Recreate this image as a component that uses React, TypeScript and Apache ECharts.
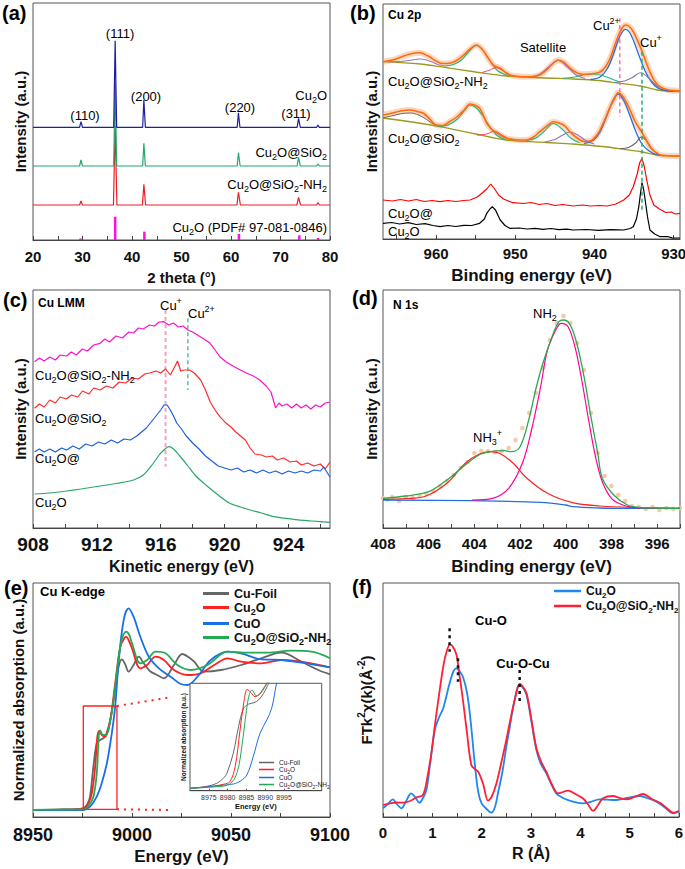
import React, { useEffect, useRef } from 'react';
import * as echarts from 'echarts';

const FONT = 'Liberation Sans, Arial, Helvetica, sans-serif';

// ---------- (a) XRD ----------
const aLabels = [20, 30, 40, 50, 60, 70, 80];
const aTicks = [20, 25, 30, 35, 40, 45, 50, 55, 60, 65, 70, 75, 80];
const xrdCu2O = [[20,112.7],[29.4,112.7],[29.7,118.3],[30.0,112.7],[36.3,112.7],[36.6,199.3],[36.9,112.7],[42.15,112.7],[42.4,140],[42.7,112.7],[52.5,112.7],[61.25,112.7],[61.5,127.3],[61.8,112.7],[73.35,112.7],[73.65,121.7],[74.0,112.7],[77.3,112.7],[77.55,115],[77.85,112.7],[80,112.7]];
const xrdSiO2 = [[20,74],[29.4,74],[29.7,80],[30,74],[36.3,74],[36.6,157],[36.9,74],[42.15,74],[42.4,96.7],[42.7,74],[61.25,74],[61.5,87.3],[61.85,74],[73.35,74],[73.65,82.7],[74.0,74],[77.3,74],[77.55,76],[77.85,74],[80,74]];
const xrdNH2 = [[20,35],[29.4,35],[29.7,39],[30,35],[36.25,35],[36.6,114],[36.95,35],[42.1,35],[42.4,55.7],[42.75,35],[61.2,35],[61.5,47.7],[61.9,35],[73.3,35],[73.65,42.7],[74.05,35],[77.3,35],[77.55,37.3],[77.9,35],[80,35]];
const pdfSticks = [[29.6,1.5],[36.6,23.3],[42.5,8.3],[61.6,6],[73.8,4.7],[77.6,2]];

// ---------- (b) Cu 2p ----------
const bLabels = [960, 950, 940, 930];
const bTicks = [965, 960, 955, 950, 945, 940, 935, 930];
const bNH2Fit = [[966.7,177.3],[965.5,179],[964.6,181.5],[963.3,185],[962.1,186.3],[961,183],[960.0,178],[959.2,175.5],[958.3,175.7],[957.4,178.5],[956.5,184],[955.7,190],[954.9,194],[954.2,190],[953.6,183],[953.0,176],[952.6,173],[951.9,170.7],[951.3,167],[950.7,164],[949.5,162.5],[948.6,162.3],[947.7,162.5],[946.9,164],[946.2,168],[945.5,173.5],[944.6,179],[943.9,177],[943.3,172.5],[942.5,167.5],[941.8,165],[941.0,164.7],[940.1,165.5],[939.3,167],[938.6,172.3],[938.0,181],[937.6,190],[937.0,203],[936.5,211],[936.1,214],[935.6,212.5],[935.1,207.3],[934.6,199],[934.0,188],[933.5,177],[933.0,167],[932.5,159],[932.0,154],[931.3,150.5],[930.5,148.8],[929.2,148.3]];
const bNH2Bg = [[966.7,177.3],[962,175],[959.5,172.3],[955,167],[951.1,163],[946,161],[942.7,160],[939.5,158.5],[936.8,155.7],[934.2,153],[932.1,149],[930.5,147.8],[929.2,147.3]];
const bNH2Sat1 = [[966,177.2],[964.5,177.5],[963,179],[962.1,180],[961,178.5],[959.8,174.5],[959,173.3]];
const bNH2Sat2 = [[959,173],[957.8,174.5],[956.8,179],[955.8,188],[954.9,193.5],[954,188],[953.1,177],[952.2,168],[951.3,164.5],[950.5,163.3]];
const bNH2Cu1Half = [[954.2,166.5],[953.2,169],[952.4,171.3],[951.6,168.5],[950.6,164]];
const bNH2Sat3 = [[948.3,162],[947,164.5],[945.8,172],[944.6,178.5],[943.4,172],[942.3,164],[941.2,160.5]];
const bNH2Sat4 = [[944,160.8],[942.5,162],[941.2,164.5],[940.1,165],[939,163.5],[937.8,160],[936.8,157]];
const bNH2Cu2 = [[940.5,159.5],[939.3,162],[938.4,170],[937.6,185],[937,199],[936.5,207],[936.1,209.7],[935.6,207],[935,197],[934.4,184],[933.6,168],[932.8,157],[932,151],[931,148.5],[930,148]];
const bNH2Cu1 = [[937.5,156.5],[936.2,158],[935.2,161.5],[934.2,166.3],[933.3,162],[932.4,155],[931.6,150]];

const bSiFit = [[966.7,124],[965.5,126],[964.6,127.8],[963.3,129],[962.3,127.3],[961.6,125.7],[960.8,120],[960,114],[959.2,113.5],[958.3,117.3],[957.3,122.5],[956.4,129.5],[955.7,135],[955,133.5],[954.5,130.7],[954,123],[953.6,115.7],[953,110],[952.6,107.3],[951.9,104],[951.1,100.7],[950,99.3],[948.6,99],[947.7,102],[946.9,107.3],[946,113],[945.2,117.3],[944.5,116],[943.9,114],[943.5,111],[943.1,107.3],[942.2,101],[941.3,97.5],[940.5,98],[939.8,103],[939.3,109],[938.6,121],[938,132.3],[937.5,140],[937,146.3],[936.5,143.5],[936,137],[935.5,129],[934.9,118],[934.2,109],[933.6,101],[933,92.3],[932.4,87.5],[931.7,84],[930.8,83.3],[929.2,83]];
const bSiBg = [[966.7,121],[963,117],[959.5,112.3],[955,105],[951.1,99],[946,96.5],[942.7,95],[939,92.5],[936.3,89.7],[934,87],[932.1,84],[930.5,83.2],[929.2,83]];
const bSiSat1 = [[966.7,121.3],[965.6,123],[964.5,125.2],[963.3,126],[962.2,124],[961.2,119.5],[960.2,114.5],[959.4,112.3]];
const bSiSat2 = [[959.8,112.6],[958.5,114],[957.3,120],[956.4,128.5],[955.7,134],[954.9,131],[954,122],[953.1,111],[952.2,103],[951.3,99.8]];
const bSiCu1Half = [[954.8,103.8],[953.6,105],[952.6,108],[951.7,104],[950.7,99.6]];
const bSiSat3 = [[948.6,98.5],[947.4,101],[946.3,108],[945.2,115.5],[944.1,110],[943,101],[941.9,96.3]];
const bSiSat4 = [[946.3,97],[945,99.5],[944,104],[943.1,107],[942.2,104.5],[941.2,99],[940,94.8]];
const bSiCu2 = [[941.3,95.5],[940.1,99],[939.3,107],[938.5,122],[937.7,138],[937,145],[936.3,138.5],[935.6,125],[934.8,108],[934,95],[933.1,88],[932.2,84.5],[931.2,83.3]];
const bSiCu1 = [[936.8,90.3],[935.7,91.5],[934.8,96],[934.1,102],[933.4,98],[932.7,89.5],[931.9,84.5]];

const bCuAt = [[966.7,39],[965.5,38],[964.5,39.5],[963.5,38],[962.5,39.5],[961.5,37.5],[960.5,38.5],[959.5,37.3],[958.5,38.5],[957.5,37.5],[956.5,38.5],[955.7,39],[954.8,42],[954.2,45.7],[953.6,50],[953.1,55],[952.6,50],[952.1,44],[951.5,40],[950.3,36.3],[949,35.5],[948,36.5],[947,34.5],[946,35.5],[945,33.5],[944,34.5],[942.7,33],[941.5,34],[940.5,33],[939.4,33.5],[938.4,33],[937.3,35],[936.3,39],[935.6,44],[935.1,52.3],[934.6,65],[934.3,76],[934.0,80.7],[933.7,72],[933.4,59],[933,44],[932.5,34],[931.8,30],[931,26.5],[930.3,27],[929.8,25],[929.2,25.7]];
const bCu2O = [[966.7,15.7],[965.6,16.5],[964.6,15],[963.5,16.3],[962.5,14.5],[961.4,15.3],[960.4,13.5],[959.5,12.3],[958.5,13.5],[957.5,12.5],[956.5,13.7],[955.5,13.5],[954.5,15.7],[953.9,20],[953.6,25.7],[953.2,30],[952.9,32.3],[952.5,29],[951.9,19],[951.3,13.5],[950.7,10.7],[949.5,11],[948.5,10],[947.5,10.7],[946.5,9.7],[945.5,10.5],[944.5,9.3],[943.5,9.8],[942.7,9],[941,9.5],[939.5,8.7],[938,9.3],[936.3,9],[935.5,10.5],[935.1,12.3],[934.7,20],[934.4,32.3],[934.2,45],[934.0,56.3],[933.8,50],[933.6,39],[933.3,22],[933.0,9],[932.4,5],[931.7,2.3],[930.8,2.5],[930.2,1.2],[929.2,1]];
const bMarkCu2 = [[936.8,220.7],[936.8,122.3]];
const bMarkCu1 = [[934,187.3],[934,29]];

// ---------- (c) Cu LMM ----------
const cLabels = [908, 912, 916, 920, 924];
const cTicks = [908, 910, 912, 914, 916, 918, 920, 922, 924, 926];
const cNH2 = [[908.1,166.3],[908.4,170],[908.7,167],[909.05,171],[909.4,168],[909.7,173],[910.1,172],[910.4,176],[910.7,173],[911.1,179],[911.4,177],[911.8,183],[912.2,184.7],[912.5,189],[912.8,186],[913.2,192],[913.6,190],[914,196],[914.3,195],[914.6,200],[914.9,199],[915.3,203],[915.6,202],[915.9,206],[916.2,206.3],[916.5,203],[916.8,205],[917.1,201],[917.4,202],[917.7,198],[918.0,196],[918.4,192],[918.7,189],[919.1,184.7],[919.4,178],[919.7,171.3],[920.1,166],[920.6,161.3],[921.0,158],[921.4,154.7],[921.8,152],[922.2,148],[922.6,142],[922.9,136],[923.2,120],[923.4,125],[923.6,122],[923.9,124],[924.2,120],[924.5,124],[924.8,120],[925.1,123],[925.4,119],[925.7,123],[926.0,121],[926.3,125],[926.6,126]];
const cSiO2 = [[908.1,119.7],[908.4,124],[908.7,121],[909.05,128],[909.4,125],[909.7,131],[910.1,129],[910.4,133],[910.8,131],[911.1,137],[911.5,134],[911.8,140],[912.2,138],[912.6,142],[913,140],[913.4,146],[913.8,145],[914.2,150],[914.6,149],[915,154],[915.3,155],[915.7,157],[916.0,155],[916.3,159],[916.6,153],[916.9,162],[917.05,167],[917.25,157],[917.5,158],[917.8,158],[918.1,155],[918.5,148],[918.8,138],[919.1,126],[919.4,118],[919.7,111.3],[920.1,104.7],[920.4,101],[920.7,96],[921.0,92],[921.3,88],[921.6,80],[921.9,74],[922.3,73],[922.6,71],[923,72],[923.3,68],[923.7,70],[924.1,66],[924.5,67],[924.8,63],[925.2,65],[925.6,62],[926,64],[926.3,59],[926.6,66]];
const cAt = [[908.1,76.3],[908.4,79],[908.7,76],[909.05,79],[909.4,76],[909.8,80],[910.1,78],[910.5,82],[910.9,79],[911.3,84],[911.7,82],[912.1,86],[912.5,84],[912.9,88],[913.3,85],[913.7,89],[914.1,88],[914.5,92],[914.8,96],[915.1,100],[915.4,106],[915.7,112],[916.0,118],[916.2,123],[916.4,123],[916.6,118],[916.8,112],[917.0,105],[917.3,99],[917.6,92],[918.0,85],[918.4,79],[918.8,72],[919.2,67],[919.6,62],[920.0,60],[920.4,58],[920.8,60],[921.2,56],[921.6,58],[922,55],[922.4,58],[922.8,55],[923.2,57],[923.6,54],[924,57],[924.4,55],[924.8,57],[925.2,55],[925.6,58],[926,57],[926.2,61],[926.6,51]];
const cCu2O = [[908.1,34],[909,35],[910.1,37],[911,39],[912.2,42],[913.2,44.5],[914.3,48],[914.9,53],[915.5,64],[915.9,73],[916.2,78],[916.5,81.3],[916.8,79],[917.2,72],[917.7,62],[918.2,52],[918.9,42],[919.6,33],[920.3,25],[921,21],[921.6,18],[922.3,15],[923.1,11.3],[924.3,8.7],[925.5,7],[926.6,5.7]];
const cMarkCu1 = [[916.3,218],[916.3,61.3]];
const cMarkCu2 = [[917.7,209.7],[917.7,138]];

// ---------- (d) N 1s ----------
const dLabels = [408, 406, 404, 402, 400, 398, 396];
const dTicks = [408, 407, 406, 405, 404, 403, 402, 401, 400, 399, 398, 397, 396, 395];
const dRaw = [[408,30],[407.8,28.5],[407.6,31],[407.3,27],[407,31],[406.7,30],[406.4,32],[406.1,34],[405.8,37],[405.5,42],[405.2,47],[404.9,53],[404.6,60],[404.3,66],[404,75],[403.7,77],[403.4,77],[403.1,76],[402.8,77],[402.5,80],[402.2,88],[401.9,100],[401.6,115],[401.3,135],[401,160],[400.7,188],[400.4,205],[400.1,212],[399.8,205],[399.5,185],[399.2,158],[398.9,115],[398.6,75],[398.3,52],[398,42],[397.7,33],[397.4,27],[397.1,22],[396.8,21],[396.5,19],[396.2,21],[395.9,18],[395.6,20],[395.3,19],[395,20]];
const dFit = [[408,29.7],[407,32],[406,36.3],[405.2,48],[404.5,61.3],[403.8,73],[403.3,76.3],[402.7,77.3],[402.4,76.3],[402,81.3],[401.6,110],[401.3,140],[401,164.7],[400.6,191.3],[400.3,206.3],[400.1,208],[399.8,203],[399.5,183],[399.2,151.3],[398.9,111.3],[398.6,74.7],[398.4,49.7],[397.9,33],[397.3,23],[396.8,20.7],[396,20],[395,19.7]];
const dNH3 = [[408,28.7],[407,29.5],[406.2,31.3],[405.2,44.7],[404.4,64.7],[403.8,73.7],[403.3,76.3],[402.9,74.7],[402.3,64.7],[401.7,49.7],[400.8,34.7],[399.7,25.3],[398.5,22],[397,20.5],[395,19.7]];
const dNH2 = [[404.1,28],[403.2,29.7],[402.5,39.7],[401.9,64.7],[401.5,98],[401.1,141.3],[400.8,178],[400.4,199.7],[400.2,204.7],[399.9,201.3],[399.6,181.3],[399.3,148],[399,108],[398.7,71.3],[398.4,46.3],[398,29.7],[397.5,23],[396.8,20]];
const dBg = [[408,28],[404.1,27.3],[401.1,25.7],[400,23],[399.7,21.3],[398.5,20],[397.5,19.7],[395,19.7]];

// ---------- (e) Cu K-edge ----------
const eLabels = [8950, 9000, 9050, 9100];
const eTicks = [8950, 8975, 9000, 9025, 9050, 9075, 9100];
const eFoil = [[8950,7],[8965,7.3],[8975.4,8.7],[8977.5,13],[8978.8,20.3],[8980.5,50.3],[8982.2,73.7],[8983.9,77],[8986.4,80.3],[8989,97],[8991.5,127],[8993.2,150],[8994.9,157.7],[8996.5,153],[8998.3,145.3],[9000.8,152],[9003.4,160.3],[9005.9,153.7],[9009,146],[9012.7,142],[9016.1,138.7],[9021.2,152],[9025.4,163],[9028.5,160],[9031.4,155.3],[9036.4,145.3],[9044.9,147],[9055.1,152],[9065.3,158.7],[9075.4,164.3],[9085.6,155.3],[9094.1,147],[9100,142.7]];
const eCu2O = [[8950,7],[8965,7.5],[8975.4,8.7],[8978,14],[8979.7,23.7],[8981.4,50.3],[8982.5,80.3],[8983.6,86.3],[8984.7,82],[8986.4,80.3],[8989,97],[8991.5,133.7],[8994.1,170.3],[8996.2,179],[8997.1,180.3],[8998.5,176],[9000,168.7],[9004.2,148.7],[9007.6,152],[9011.9,160.3],[9016.1,157],[9021.2,147],[9028,142],[9034.7,143.7],[9041.5,152],[9048.3,158.7],[9055.1,155.3],[9065.3,153.7],[9075.4,157],[9085.6,155.3],[9100,149.7]];
const eCuO = [[8950,7],[8965,7],[8975.4,7],[8978.8,10.3],[8982.2,20.3],[8984.7,33.7],[8987.3,53.7],[8989.8,83.7],[8991.5,110.3],[8993.2,153.7],[8995.8,197],[8998.3,208.7],[9000.8,200.3],[9004.2,180.3],[9008.5,160.3],[9013.6,148.7],[9019.5,140.3],[9024.6,133],[9028,132],[9033.1,140.3],[9039.8,157],[9048.3,165.3],[9055.1,163.7],[9065.3,157.7],[9075.4,157],[9085.6,154.3],[9100,149.7]];
const eNH2 = [[8950,7],[8965,7.5],[8975.4,7.7],[8978,11],[8980.5,20.3],[8982.2,43.7],[8983.2,80.3],[8983.9,86.3],[8985.3,82],[8986.9,82],[8989.3,98.7],[8991.9,137],[8994.4,173.7],[8997.1,185.3],[8998.6,182],[9000,173.7],[9004.2,153.7],[9007.6,157],[9011.9,165.3],[9016.9,163.7],[9022.9,152],[9029.7,147],[9038.1,152],[9048.3,165.3],[9058.5,164.3],[9068.6,164.3],[9080.5,166.3],[9090.7,165.3],[9100,158.7]];
const eZoomBox = [[8975.4,7.7],[8992.4,7.7],[8992.4,111],[8975.4,111],[8975.4,7.7]];
const eLinkTop = [[8992.4,111],[9019.5,119.7]];
const eLinkBot = [[8992.4,7.7],[9019.5,7]];

// inset
const iLabels = [8975, 8980, 8985, 8990, 8995];
const iFoil = [[8970,2.4],[8974,4],[8977.1,7.4],[8979,13],[8979.8,17.4],[8981.5,37.4],[8982.9,64],[8984.2,82],[8985.5,86.5],[8987,88],[8988.2,90.7],[8989.5,97],[8990.5,104],[8991.5,112]];
const iCu2O = [[8970,2.4],[8976,4.5],[8979,6.5],[8980.6,9],[8982,24],[8983.3,60.7],[8984.3,88],[8985.2,101.4],[8986.2,98],[8987.3,94],[8988.3,96],[8989.3,101],[8990.4,107.4],[8991.2,112]];
const iCuO = [[8970,2.4],[8981.5,6.7],[8983.5,10],[8985.1,15.7],[8986.8,34],[8988.6,57.4],[8990.4,70.7],[8991.7,82.4],[8993,107.4],[8993.5,115]];
const iNH2 = [[8970,2.4],[8977,4],[8980.5,6.5],[8982.5,18],[8983.8,45],[8985,80],[8985.8,97],[8986.5,100.7],[8987.6,95],[8988.6,96.5],[8989.8,103],[8990.8,109],[8991.5,112]];

// ---------- (f) FT-EXAFS ----------
const fLabels = [0, 1, 2, 3, 4, 5, 6];
const fTicks = [0, 0.5, 1, 1.5, 2, 2.5, 3, 3.5, 4, 4.5, 5, 5.5, 6];
const fCu2O = [[0,8.7],[0.1,13],[0.2,17.7],[0.28,13],[0.37,8.7],[0.47,16],[0.57,23.7],[0.65,20],[0.74,14.3],[0.8,18],[0.88,27],[0.96,55],[1.05,87],[1.14,100],[1.22,108.7],[1.35,133.7],[1.43,146],[1.49,148.7],[1.55,146],[1.62,140.3],[1.7,125],[1.76,103.7],[1.86,53.7],[1.93,25],[2,13.7],[2.1,8],[2.2,4.3],[2.27,10],[2.33,23.7],[2.42,45],[2.5,70.3],[2.57,90],[2.64,110.3],[2.72,128],[2.77,132],[2.84,129],[2.91,122],[3.0,98],[3.11,67],[3.2,53],[3.31,43.7],[3.42,32],[3.51,23.7],[3.65,19],[3.85,15.3],[4.05,13.7],[4.2,15],[4.39,17.7],[4.55,17.3],[4.73,17],[4.95,19],[5.2,21],[5.35,19],[5.54,15.3],[5.7,10],[5.88,3.7],[6,5.3]];
const fNH2 = [[0,12],[0.14,13.7],[0.28,14.5],[0.41,14.3],[0.55,16],[0.68,19.7],[0.81,22],[0.9,40],[0.98,63.7],[1.06,95],[1.15,127],[1.22,150],[1.28,163.7],[1.36,172.7],[1.42,170],[1.49,162],[1.55,142],[1.62,117],[1.7,85],[1.79,52],[1.86,48],[1.93,45.3],[2.03,33],[2.13,16.3],[2.2,20],[2.3,33.7],[2.4,55],[2.5,77],[2.58,97],[2.67,117],[2.77,133],[2.84,130],[2.91,123.7],[3.0,100],[3.11,68.7],[3.2,56],[3.31,45.3],[3.42,33],[3.55,23.7],[3.65,25],[3.75,26.3],[3.9,23],[4.05,18.7],[4.15,13],[4.26,6.3],[4.36,12],[4.46,18.7],[4.66,21],[4.8,19],[4.93,17.7],[5.1,20],[5.27,23],[5.45,18],[5.61,14.3],[5.75,9],[5.88,4.3],[6,6.3]];
const fMarkCuO1 = [[1.35,188.7],[1.35,165.3]];
const fMarkCuO2 = [[1.52,158.7],[1.52,135.3]];
const fMarkCuOCu = [[2.77,147],[2.77,112]];

// ---------- helpers ----------
function rich(fs: number, weight: string, color: string) {
  const lh = Math.round(fs * 1.35);
  const sfs = Math.max(5, Math.round(fs * 0.68));
  return {
    n: { fontSize: fs, fontWeight: weight, fontFamily: FONT, color, lineHeight: lh },
    s: { fontSize: sfs, fontWeight: weight, fontFamily: FONT, color, verticalAlign: 'bottom' },
    p: { fontSize: sfs, fontWeight: weight, fontFamily: FONT, color, verticalAlign: 'top' },
  };
}
function rt(src: string) {
  const parts = src.split(/(_\{[^}]*\}|\^\{[^}]*\}|_.|\^.)/).filter((p) => p.length > 0);
  return parts
    .map((p) => {
      if (p[0] === '_') return '{s|' + p.slice(1).replace(/[{}]/g, '') + '}';
      if (p[0] === '^') return '{p|' + p.slice(1).replace(/[{}]/g, '') + '}';
      return '{n|' + p + '}';
    })
    .join('');
}
function gt(x: number, y: number, s: string, fs: number, weight = 'normal', color = '#1a1a1a', align = 'left') {
  return {
    type: 'text', x, y, silent: true, z: 50,
    style: { text: rt(s), rich: rich(fs, weight, color), align, verticalAlign: 'middle' },
  };
}
const plain = (v: number) => String(v);
function xAx(gi: number, min: number, max: number, labels: number[], ticks: number[], name: string,
  fs: number, nameFs: number, margin: number, nameGap: number, inverse = false) {
  return {
    type: 'value', gridIndex: gi, min, max, inverse, name, nameLocation: 'middle', nameGap,
    nameTextStyle: { fontFamily: FONT, fontWeight: 'bold', fontSize: nameFs, color: '#111' },
    axisLine: { show: true, lineStyle: { color: '#444', width: 1 } },
    axisTick: { show: true, inside: true, length: 4, customValues: ticks, lineStyle: { color: '#444', width: 1 } },
    axisLabel: { show: true, customValues: labels, formatter: plain, hideOverlap: false, margin, fontFamily: FONT, fontWeight: 'bold', fontSize: fs, color: '#111' },
    splitLine: { show: false },
  };
}
function yAx(gi: number, max: number, name: string, nameGap: number, nameFs: number, richName = false) {
  return {
    type: 'value', gridIndex: gi, min: 0, max, name: richName ? rt(name) : name, nameLocation: 'middle', nameGap, nameRotate: 90,
    nameTextStyle: richName
      ? { rich: rich(nameFs, 'bold', '#111') }
      : { fontFamily: FONT, fontWeight: 'bold', fontSize: nameFs, color: '#111' },
    axisLine: { show: false }, axisTick: { show: false }, axisLabel: { show: false }, splitLine: { show: false },
  };
}
function ln(i: number, data: number[][], color: string, width: number, extra: any = {}) {
  return {
    type: 'line', xAxisIndex: i, yAxisIndex: i, data, symbol: 'none', showSymbol: false, silent: true,
    lineStyle: { color, width, ...(extra.lineStyle || {}) }, itemStyle: { color },
    ...Object.fromEntries(Object.entries(extra).filter(([k]) => k !== 'lineStyle')),
  };
}

const LEG_NAMES: Record<string, string> = {
  eFoil: 'Cu-Foil', eCu2O: 'Cu_2O', eCuO: 'CuO', eNH2: 'Cu_2O@SiO_2-NH_2',
  iFoil: 'Cu-Foil', iCu2O: 'Cu_2O', iCuO: 'CuO', iNH2: 'Cu_2O@SiO_2-NH_2',
  fCu2O: 'Cu_2O', fNH2: 'Cu_2O@SiO_2-NH_2',
};

export default function App() {
  const ref = useRef<HTMLDivElement>(null);
  useEffect(() => {
    if (!ref.current) return;
    const chart = echarts.init(ref.current, null, { renderer: 'svg' });
    const border = { show: true, borderColor: '#555', borderWidth: 1, backgroundColor: 'transparent', outerBoundsMode: 'none', containLabel: false };
    const sm = 0.35;
    const option: any = {
      animation: false,
      grid: [
        { left: 33, top: 3, width: 297, height: 237, ...border },
        { left: 383, top: 4, width: 297, height: 235, ...border },
        { left: 33, top: 290, width: 297, height: 238, ...border },
        { left: 383, top: 290, width: 297, height: 238, ...border },
        { left: 33, top: 583, width: 297, height: 234, ...border },
        { left: 383, top: 583, width: 296, height: 234, ...border },
        { left: 190, top: 683.3, width: 131.7, height: 107.4, ...border, backgroundColor: '#fff', z: 10 },
      ],
      xAxis: [
        xAx(0, 20, 80, aLabels, aTicks, '2 theta (°)', 15, 15, 9, 30),
        xAx(1, 929.2, 966.7, bLabels, bTicks, 'Binding energy (eV)', 15, 17, 7, 28, true),
        xAx(2, 908, 926.6, cLabels, cTicks, 'Kinetic energy (eV)', 19, 16, 7, 30),
        xAx(3, 395, 408, dLabels, dTicks, 'Binding energy (eV)', 15, 17, 8, 30, true),
        xAx(4, 8950, 9100, eLabels, eTicks, 'Energy (eV)', 18, 17, 9, 31),
        xAx(5, 0, 6, fLabels, fTicks, 'R (Å)', 15, 16, 8, 28),
        {
          ...xAx(6, 8970, 9005, iLabels, iLabels, 'Energy (eV)', 7, 7.5, 3, 12),
          z: 12,
          axisLabel: { show: true, customValues: iLabels, formatter: plain, hideOverlap: false, margin: 3, fontFamily: FONT, fontSize: 7, color: '#333' },
          axisTick: { show: true, inside: true, length: 2, customValues: iLabels, lineStyle: { color: '#555' } },
        },
      ],
      yAxis: [
        yAx(0, 237, 'Intensity (a.u.)', 5, 15),
        yAx(1, 235, 'Intensity (a.u.)', 4, 15),
        yAx(2, 238, 'Intensity (a.u.)', 5, 15),
        yAx(3, 238, 'Intensity (a.u.)', 4, 15),
        yAx(4, 234, 'Normalized absorption (a.u.)', 7, 15),
        yAx(5, 234, 'FTk^2χ(k)(Å^{-2})', 7, 15, true),
        { ...yAx(6, 107.4, 'Normalized absorption (a.u.)', 3, 6.5), z: 12 },
      ],
      legend: [
        {
          left: 198, top: 582, orient: 'vertical', itemGap: 1, itemWidth: 26, itemHeight: 3, icon: 'rect', selectedMode: false,
          data: ['eFoil', 'eCu2O', 'eCuO', 'eNH2'], formatter: (n: string) => rt(LEG_NAMES[n]),
          textStyle: { rich: rich(12.5, 'bold', '#111') },
        },
        {
          left: 549, top: 580, orient: 'vertical', itemGap: 1, itemWidth: 27, itemHeight: 2.5, icon: 'rect', selectedMode: false,
          data: ['fCu2O', 'fNH2'], formatter: (n: string) => rt(LEG_NAMES[n]),
          textStyle: { rich: rich(12, 'bold', '#111') },
        },
        {
          left: 254, top: 754, orient: 'vertical', itemGap: 0, itemWidth: 15, itemHeight: 1.5, icon: 'rect', selectedMode: false, z: 20,
          data: ['iFoil', 'iCu2O', 'iCuO', 'iNH2'], formatter: (n: string) => rt(LEG_NAMES[n]),
          textStyle: { rich: rich(6.5, 'normal', '#222') },
        },
      ],
      series: [
        // (a)
        ln(0, xrdNH2, '#ee1c24', 1.2),
        ln(0, xrdSiO2, '#23a86a', 1.2),
        ln(0, xrdCu2O, '#1e1e9e', 1.2),
        { type: 'bar', xAxisIndex: 0, yAxisIndex: 0, data: pdfSticks, barWidth: 2.5, itemStyle: { color: '#ff10e0' }, silent: true },
        // (b) top
        ln(1, bNH2Fit, 'rgba(248,166,110,0.45)', 6, { smooth: sm }),
        ln(1, bNH2Bg, '#9c9a1c', 1.3, { smooth: sm }),
        ln(1, bNH2Sat1, '#8f6fc0', 1, { smooth: sm }),
        ln(1, bNH2Sat2, '#19b982', 1.1, { smooth: sm }),
        ln(1, bNH2Cu1Half, '#ff3a5c', 1, { smooth: sm }),
        ln(1, bNH2Sat3, '#9a6fd0', 1.1, { smooth: sm }),
        ln(1, bNH2Sat4, '#19b982', 1.1, { smooth: sm }),
        ln(1, bNH2Cu2, '#1f6fe5', 1.3, { smooth: sm }),
        ln(1, bNH2Cu1, '#7d7ab0', 1.1, { smooth: sm }),
        ln(1, bNH2Fit, '#ff6a10', 1.6, { smooth: sm }),
        // (b) middle
        ln(1, bSiFit, 'rgba(248,166,110,0.45)', 6, { smooth: sm }),
        ln(1, bSiBg, '#9c9a1c', 1.3, { smooth: sm }),
        ln(1, bSiSat1, '#666666', 1, { smooth: sm }),
        ln(1, bSiSat2, '#19b982', 1.1, { smooth: sm }),
        ln(1, bSiCu1Half, '#ff3a5c', 1, { smooth: sm }),
        ln(1, bSiSat3, '#19b982', 1.1, { smooth: sm }),
        ln(1, bSiSat4, '#9a6fd0', 1.1, { smooth: sm }),
        ln(1, bSiCu2, '#1f6fe5', 1.3, { smooth: sm }),
        ln(1, bSiCu1, '#666666', 1.1, { smooth: sm }),
        ln(1, bSiFit, '#ff6a10', 1.6, { smooth: sm }),
        // (b) bottom
        ln(1, bCuAt, '#ff0000', 1.2),
        ln(1, bCu2O, '#000000', 1.2),
        ln(1, bMarkCu2, '#ff5fa0', 1.3, { lineStyle: { type: [4, 3] } }),
        ln(1, bMarkCu1, '#22b070', 1.5, { lineStyle: { type: [4, 3] } }),
        // (c)
        ln(2, cMarkCu1, '#f7a3bd', 2, { lineStyle: { type: [4, 3] } }),
        ln(2, cMarkCu2, '#3db887', 1.3, { lineStyle: { type: [4, 3] } }),
        ln(2, cNH2, '#ff10c8', 1.2),
        ln(2, cSiO2, '#ff2a2a', 1.2),
        ln(2, cAt, '#1a5fe0', 1.2),
        ln(2, cCu2O, '#28a868', 1.2, { smooth: 0.3 }),
        // (d)
        { type: 'scatter', xAxisIndex: 3, yAxisIndex: 3, data: dRaw, symbolSize: 4.5, itemStyle: { color: '#f6c29a', opacity: 0.9 }, silent: true },
        ln(3, dBg, '#2070e0', 1.3, { smooth: sm }),
        ln(3, dNH3, '#ff2020', 1.2, { smooth: sm }),
        ln(3, dNH2, '#ff0099', 1.2, { smooth: sm }),
        ln(3, dFit, '#2aa850', 1.3, { smooth: sm }),
        // (e)
        { ...ln(4, eFoil, '#666666', 1.8, { smooth: sm }), name: 'eFoil' },
        { ...ln(4, eCu2O, '#ff2020', 1.8, { smooth: sm }), name: 'eCu2O' },
        { ...ln(4, eCuO, '#1a6fe8', 1.8, { smooth: sm }), name: 'eCuO' },
        { ...ln(4, eNH2, '#22aa55', 1.8, { smooth: sm }), name: 'eNH2' },
        ln(4, eZoomBox, '#ff2020', 1.3),
        ln(4, eLinkTop, '#ff2020', 2, { lineStyle: { type: [2, 5] } }),
        ln(4, eLinkBot, '#ff2020', 2, { lineStyle: { type: [2, 5] } }),
        // inset
        { ...ln(6, iFoil, '#666666', 1, { smooth: sm, z: 14 }), name: 'iFoil' },
        { ...ln(6, iCu2O, '#ff2020', 1, { smooth: sm, z: 14 }), name: 'iCu2O' },
        { ...ln(6, iCuO, '#1a6fe8', 1, { smooth: sm, z: 14 }), name: 'iCuO' },
        { ...ln(6, iNH2, '#22aa55', 1, { smooth: sm, z: 14 }), name: 'iNH2' },
        // (f)
        { ...ln(5, fCu2O, '#1e88f0', 1.8, { smooth: sm }), name: 'fCu2O' },
        { ...ln(5, fNH2, '#ff2035', 1.8, { smooth: sm }), name: 'fNH2' },
        ln(5, fMarkCuO1, '#111111', 2.5, { lineStyle: { type: [3, 4] } }),
        ln(5, fMarkCuO2, '#111111', 2.5, { lineStyle: { type: [3, 4] } }),
        ln(5, fMarkCuOCu, '#111111', 2.5, { lineStyle: { type: [3, 4] } }),
      ],
      graphic: [
        gt(2, 13, '(a)', 20, 'bold', '#111'),
        gt(350, 13, '(b)', 20, 'bold', '#111'),
        gt(3, 300, '(c)', 20, 'bold', '#111'),
        gt(352, 298, '(d)', 20, 'bold', '#111'),
        gt(4, 588, '(e)', 20, 'bold', '#111'),
        gt(352, 587, '(f)', 20, 'bold', '#111'),
        // (a)
        gt(120, 33, '(111)', 13, 'normal', '#111', 'center'),
        gt(85, 115, '(110)', 13, 'normal', '#111', 'center'),
        gt(146, 96, '(200)', 13, 'normal', '#1a1a80', 'center'),
        gt(240, 107, '(220)', 13, 'normal', '#111', 'center'),
        gt(296, 113, '(311)', 13, 'normal', '#111', 'center'),
        gt(327, 95, 'Cu_2O', 13, 'normal', '#111', 'right'),
        gt(327, 152, 'Cu_2O@SiO_2', 13, 'normal', '#1a1a80', 'right'),
        gt(327, 184, 'Cu_2O@SiO_2-NH_2', 13, 'normal', '#111', 'right'),
        gt(327, 227, 'Cu_2O (PDF# 97-081-0846)', 13, 'normal', '#111', 'right'),
        // (b)
        gt(388, 15, 'Cu 2p', 12, 'bold', '#111'),
        gt(543, 47, 'Satellite', 13, 'normal', '#222', 'center'),
        gt(593, 25, 'Cu^{2+}', 13, 'normal', '#222'),
        gt(640, 42, 'Cu^+', 13, 'normal', '#222'),
        gt(388, 81, 'Cu_2O@SiO_2-NH_2', 13, 'normal', '#222'),
        gt(388, 138, 'Cu_2O@SiO_2', 13, 'normal', '#222'),
        gt(388, 213, 'Cu_2O@', 13, 'normal', '#222'),
        gt(388, 231, 'Cu_2O', 13, 'normal', '#222'),
        // (c)
        gt(38, 303, 'Cu LMM', 12, 'bold', '#111'),
        gt(160, 305, 'Cu^+', 13, 'normal', '#222'),
        gt(188, 313, 'Cu^{2+}', 13, 'normal', '#222'),
        gt(35, 375, 'Cu_2O@SiO_2-NH_2', 13, 'normal', '#222'),
        gt(35, 418, 'Cu_2O@SiO_2', 13, 'normal', '#222'),
        gt(35, 458, 'Cu_2O@', 13, 'normal', '#222'),
        gt(35, 502, 'Cu_2O', 13, 'normal', '#222'),
        // (d)
        gt(393, 305, 'N 1s', 12, 'bold', '#111'),
        gt(533, 313, 'NH_2', 13, 'normal', '#222'),
        gt(473, 437, 'NH_3^+', 13, 'normal', '#222'),
        // (e)
        gt(40, 591, 'Cu K-edge', 13, 'bold', '#111'),
        // (f)
        gt(491, 620, 'Cu-O', 13, 'bold', '#111', 'center'),
        gt(523, 663, 'Cu-O-Cu', 13, 'bold', '#111', 'center'),
      ],
    };
    chart.setOption(option);
    return () => chart.dispose();
  }, []);
  return <div ref={ref} style={{ position: 'absolute', left: 0, top: 0, width: 685, height: 869, background: '#fff' }} />;
}
